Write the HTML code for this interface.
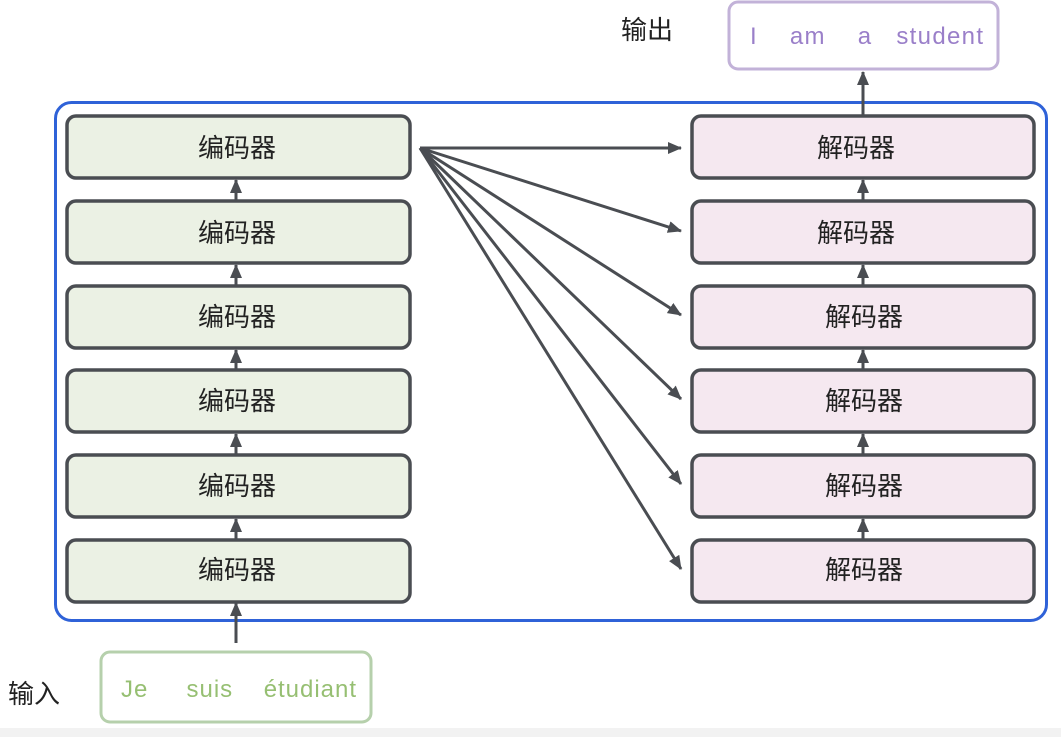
<!DOCTYPE html>
<html><head><meta charset="utf-8"><style>
body{margin:0;width:1061px;height:737px;background:#fff;overflow:hidden;font-family:"Liberation Sans","Noto Sans CJK SC",sans-serif;}
</style></head><body>
<svg width="1061" height="737" xmlns="http://www.w3.org/2000/svg" style="position:absolute;left:0;top:0">
<defs><marker id="a" markerWidth="14" markerHeight="12" refX="13" refY="6" orient="auto" markerUnits="userSpaceOnUse"><path d="M0,0 L14,6 L0,12 z" fill="#4a4d52"/></marker></defs>
<rect x="0" y="728" width="1061" height="9" fill="#f2f2f2"/>
<rect x="55.5" y="102.5" width="991" height="518" rx="16" fill="none" stroke="#2f62d8" stroke-width="3"/>
<g font-family="Liberation Sans, Noto Sans CJK SC, sans-serif" font-size="26" fill="#222" text-anchor="middle">
<g stroke="#4a4d52" stroke-width="3.5">
<rect x="67" y="116" width="343" height="62" rx="9" fill="#ebf1e4"/>
<rect x="67" y="201" width="343" height="62" rx="9" fill="#ebf1e4"/>
<rect x="67" y="286" width="343" height="62" rx="9" fill="#ebf1e4"/>
<rect x="67" y="370" width="343" height="62" rx="9" fill="#ebf1e4"/>
<rect x="67" y="455" width="343" height="62" rx="9" fill="#ebf1e4"/>
<rect x="67" y="540" width="343" height="62" rx="9" fill="#ebf1e4"/>
<rect x="692" y="116" width="342" height="62" rx="9" fill="#f5e8f0"/>
<rect x="692" y="201" width="342" height="62" rx="9" fill="#f5e8f0"/>
<rect x="692" y="286" width="342" height="62" rx="9" fill="#f5e8f0"/>
<rect x="692" y="370" width="342" height="62" rx="9" fill="#f5e8f0"/>
<rect x="692" y="455" width="342" height="62" rx="9" fill="#f5e8f0"/>
<rect x="692" y="540" width="342" height="62" rx="9" fill="#f5e8f0"/>
</g>
<text x="237" y="157">编码器</text><text x="237" y="242">编码器</text><text x="237" y="326">编码器</text><text x="237" y="410">编码器</text><text x="237" y="495">编码器</text><text x="237" y="579">编码器</text>
<text x="856" y="157">解码器</text><text x="856" y="242">解码器</text><text x="864" y="326">解码器</text><text x="864" y="410">解码器</text><text x="864" y="495">解码器</text><text x="864" y="579">解码器</text>
</g>
<g stroke="#4a4d52" stroke-width="3" marker-end="url(#a)" fill="none">
<line x1="236" y1="200" x2="236" y2="180"/><line x1="236" y1="285" x2="236" y2="265"/><line x1="236" y1="369" x2="236" y2="350"/><line x1="236" y1="454" x2="236" y2="434"/><line x1="236" y1="539" x2="236" y2="519"/><line x1="236" y1="643" x2="236" y2="603"/>
<line x1="863" y1="200" x2="863" y2="180"/><line x1="863" y1="285" x2="863" y2="265"/><line x1="863" y1="369" x2="863" y2="350"/><line x1="863" y1="454" x2="863" y2="434"/><line x1="863" y1="539" x2="863" y2="519"/><line x1="863" y1="115" x2="863" y2="72"/>
<line x1="420" y1="148" x2="681" y2="148"/>
<line x1="420" y1="148" x2="681" y2="231"/>
<line x1="420" y1="148" x2="681" y2="315"/>
<line x1="420" y1="148" x2="681" y2="399"/>
<line x1="420" y1="148" x2="681" y2="484"/>
<line x1="420" y1="148" x2="681" y2="569"/>
</g>
<rect x="729" y="2" width="269" height="67" rx="9" fill="#fff" stroke="#c2b2d8" stroke-width="3"/>
<text x="750" y="44" font-family="Liberation Sans, sans-serif" font-size="24" fill="#9a7fc9" textLength="233" lengthAdjust="spacing" xml:space="preserve">I    am    a   student</text>
<rect x="101" y="652" width="270" height="70" rx="9" fill="#fff" stroke="#b6d0ac" stroke-width="3"/>
<text x="121" y="697" font-family="Liberation Sans, sans-serif" font-size="24" fill="#96bf72" textLength="235" lengthAdjust="spacing" xml:space="preserve">Je     suis    étudiant</text>
<text x="621" y="39" font-family="Liberation Sans, Noto Sans CJK SC, sans-serif" font-size="26" fill="#222">输出</text>
<text x="8" y="703" font-family="Liberation Sans, Noto Sans CJK SC, sans-serif" font-size="26" fill="#222">输入</text>
</svg>
</body></html>
